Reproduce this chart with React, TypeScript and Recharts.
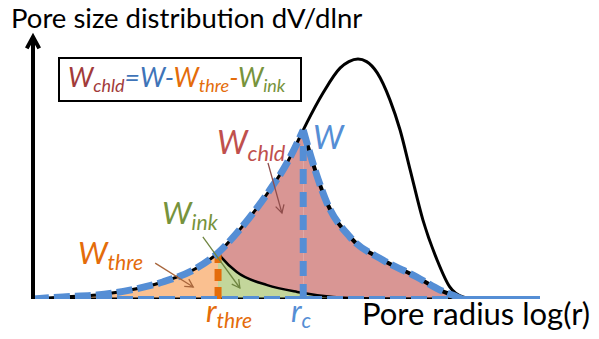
import React from 'react';
import { ComposedChart, Area, Line, XAxis, YAxis, ReferenceLine } from 'recharts';

type Pt = { x: number; y: number };

// x: log(r) in arbitrary units (0..100), y: dV/dlnr in arbitrary units (0..100)
const R_THRE = 36.5;
const R_C = 53.3;

// W curve left of r_c (identical to the total distribution there)
const wLeft: Pt[] = [
  { x: 0, y: 0 }, { x: 5.9, y: 0.8 }, { x: 12.6, y: 1.5 }, { x: 19.1, y: 3.4 },
  { x: 25.6, y: 6.5 }, { x: 32.3, y: 11.8 }, { x: 36.5, y: 17.6 }, { x: 40.2, y: 25.2 },
  { x: 43.4, y: 32.8 }, { x: 46.7, y: 41.6 }, { x: 50.1, y: 51.9 }, { x: 53.3, y: 64.5 },
];

// W curve right of r_c
const wRight: Pt[] = [
  { x: 53.3, y: 64.5 }, { x: 55.2, y: 51.9 }, { x: 58.0, y: 36.6 }, { x: 62.5, y: 23.7 },
  { x: 69.0, y: 14.9 }, { x: 75.7, y: 8.4 }, { x: 80.3, y: 3.4 }, { x: 83.6, y: 0.8 },
  { x: 84.6, y: 0 },
];

// total distribution beyond r_c
const totalTail: Pt[] = [
  { x: 54.0, y: 67.2 }, { x: 57.2, y: 78.6 }, { x: 60.6, y: 88.2 }, { x: 62.3, y: 90.6 },
  { x: 64.1, y: 91.6 }, { x: 65.8, y: 90.6 }, { x: 67.9, y: 86.3 }, { x: 70.4, y: 76.0 },
  { x: 72.4, y: 64.5 }, { x: 74.4, y: 49.2 }, { x: 76.9, y: 30.2 }, { x: 79.7, y: 14.9 },
  { x: 82.2, y: 4.6 }, { x: 84.8, y: 0.8 }, { x: 87.8, y: 0 },
];

// ink-bottle part
const inkCurve: Pt[] = [
  { x: 36.5, y: 17.6 }, { x: 37.3, y: 15.6 }, { x: 40.2, y: 10.3 }, { x: 46.2, y: 5.3 },
  { x: 52.1, y: 2.7 }, { x: 59.2, y: 0.8 }, { x: 66.5, y: 0.2 }, { x: 76.3, y: 0 },
];

const baseline: Pt[] = [{ x: 0, y: 0 }, { x: 84.6, y: 0 }];
const axisTail: Pt[] = [{ x: 84.6, y: 0 }, { x: 100, y: 0 }];

const pointers = [
  { from: { x: 46.35, y: 51.9 }, to: { x: 49.1, y: 32.8 }, color: '#8f4d4b' },
  { from: { x: 33.5, y: 23.7 }, to: { x: 40.8, y: 4.2 }, color: '#6f8540' },
  { from: { x: 24.1, y: 13.7 }, to: { x: 31.6, y: 4.6 }, color: '#a8663c' },
];

const BLUE = '#558ed5';
const ORANGE = '#e46c0a';
const RED = '#c0504d';
const GREEN = '#77933c';

const total = [...wLeft, ...totalTail];
const orangePart = wLeft.filter(p => p.x <= R_THRE);
const redLeft = wLeft.filter(p => p.x >= R_THRE);
const wAtThre = wLeft.find(p => p.x === R_THRE)!.y;
const wAtC = wLeft.find(p => p.x === R_C)!.y;
const threLine: Pt[] = [{ x: R_THRE, y: 0 }, { x: R_THRE, y: wAtThre }];
const cLine: Pt[] = [{ x: R_C, y: 0 }, { x: R_C, y: wAtC }];

const arrowShape = (color: string, width: number, head: number) => (props: any) => {
  const { x1, y1, x2, y2 } = props;
  const a = Math.atan2(y2 - y1, x2 - x1);
  const w = 0.5;
  const p1 = [x2 - head * Math.cos(a - w), y2 - head * Math.sin(a - w)];
  const p2 = [x2 - head * Math.cos(a + w), y2 - head * Math.sin(a + w)];
  return (
    <g>
      <line x1={x1} y1={y1} x2={x2} y2={y2} stroke={color} strokeWidth={width} />
      <polyline
        points={`${p1[0]},${p1[1]} ${x2},${y2} ${p2[0]},${p2[1]}`}
        fill="none"
        stroke={color}
        strokeWidth={width}
      />
    </g>
  );
};

function Label({ x, base, size, color, main, sub, italic = true }: any) {
  return (
    <div
      style={{
        position: 'absolute',
        left: x,
        top: base - 0.887 * size,
        fontSize: size,
        lineHeight: 1,
        color,
        fontStyle: italic ? 'italic' : 'normal',
        whiteSpace: 'nowrap',
      }}
    >
      {main}
      {sub && (
        <span style={{ fontSize: size * 0.68, position: 'relative', top: size * 0.22 }}>{sub}</span>
      )}
    </div>
  );
}

const sub = (t: string) => (
  <span style={{ fontSize: 18, position: 'relative', top: 5 }}>{t}</span>
);

export default function App() {
  return (
    <div
      style={{
        position: 'fixed',
        left: 0,
        top: 0,
        width: 599,
        height: 339,
        background: '#fff',
        fontFamily: 'Lato, sans-serif',
      }}
    >
      <ComposedChart width={599} height={339} margin={{ top: 37, right: 59, bottom: 40, left: 33 }}>
        <XAxis type="number" dataKey="x" domain={[0, 100]} hide allowDataOverflow />
        <YAxis type="number" domain={[0, 100]} hide allowDataOverflow />

        <Area data={orangePart} dataKey="y" type="monotone" fill="#fac090" fillOpacity={1} stroke="none" isAnimationActive={false} />
        <Area data={redLeft} dataKey="y" type="monotone" fill="#d99694" fillOpacity={1} stroke="none" isAnimationActive={false} />
        <Area data={wRight} dataKey="y" type="monotone" fill="#d99694" fillOpacity={1} stroke="none" isAnimationActive={false} />
        <Area data={inkCurve} dataKey="y" type="monotone" fill="#c3d69b" fillOpacity={1} stroke="none" isAnimationActive={false} />

        <Line data={total} dataKey="y" type="monotone" stroke="#000" strokeWidth={3} dot={false} activeDot={false} isAnimationActive={false} />
        <Line data={inkCurve} dataKey="y" type="monotone" stroke="#000" strokeWidth={2.5} dot={false} activeDot={false} isAnimationActive={false} />
        <Line data={wRight} dataKey="y" type="monotone" stroke="#000" strokeWidth={4} dot={false} activeDot={false} isAnimationActive={false} />
        <Line data={baseline} dataKey="y" type="linear" stroke="#000" strokeWidth={3} dot={false} activeDot={false} isAnimationActive={false} />

        <Line data={threLine} dataKey="y" type="linear" stroke={ORANGE} strokeWidth={7} strokeDasharray="12 6" dot={false} activeDot={false} isAnimationActive={false} />
        <Line data={cLine} dataKey="y" type="linear" stroke={BLUE} strokeWidth={7} strokeDasharray="15 8" dot={false} activeDot={false} isAnimationActive={false} />

        <Line data={wLeft} dataKey="y" type="monotone" stroke={BLUE} strokeWidth={7} strokeDasharray="16 5" dot={false} activeDot={false} isAnimationActive={false} />
        <Line data={wRight} dataKey="y" type="monotone" stroke={BLUE} strokeWidth={7} strokeDasharray="16 5" dot={false} activeDot={false} isAnimationActive={false} />
        <Line data={baseline} dataKey="y" type="linear" stroke={BLUE} strokeWidth={6} strokeDasharray="16 5" dot={false} activeDot={false} isAnimationActive={false} />
        <Line data={axisTail} dataKey="y" type="linear" stroke={BLUE} strokeWidth={6} dot={false} activeDot={false} isAnimationActive={false} />

        <ReferenceLine
          segment={[{ x: 0, y: 0 }, { x: 0, y: 100 }]}
          ifOverflow="visible"
          shape={arrowShape('#000', 4, 13)}
        />
        {pointers.map((p, i) => (
          <ReferenceLine
            key={i}
            segment={[p.from, p.to]}
            ifOverflow="visible"
            shape={arrowShape(p.color, 1.3, 9)}
          />
        ))}
      </ComposedChart>

      <Label x={11} base={28} size={27.5} color="#000" main="Pore size distribution dV/dlnr" italic={false} />

      <div
        style={{
          position: 'absolute',
          left: 58,
          top: 57,
          width: 244,
          height: 45,
          border: '2.5px solid #000',
          boxSizing: 'border-box',
        }}
      />
      <div
        style={{
          position: 'absolute',
          left: 68,
          top: 88 - 0.887 * 26.5,
          fontSize: 26.5,
          lineHeight: 1,
          fontStyle: 'italic',
          whiteSpace: 'nowrap',
        }}
      >
        <span style={{ color: '#a23b3a' }}>W{sub('chld')}</span>
        <span style={{ color: '#3f74b8' }}>=W-</span>
        <span style={{ color: ORANGE }}>W{sub('thre')}-</span>
        <span style={{ color: GREEN }}>W{sub('ink')}</span>
      </div>

      <Label x={313} base={149} size={32} color={BLUE} main="W" />
      <Label x={217} base={154} size={32} color={RED} main="W" sub="chld" />
      <Label x={162} base={224} size={31} color={GREEN} main="W" sub="ink" />
      <Label x={78} base={264} size={31} color={ORANGE} main="W" sub="thre" />
      <Label x={206} base={322} size={31} color={ORANGE} main="r" sub="thre" />
      <Label x={291} base={322} size={31} color={BLUE} main="r" sub="c" />
      <Label x={362} base={325} size={31} color="#000" main="Pore radius log(r)" italic={false} />
    </div>
  );
}
